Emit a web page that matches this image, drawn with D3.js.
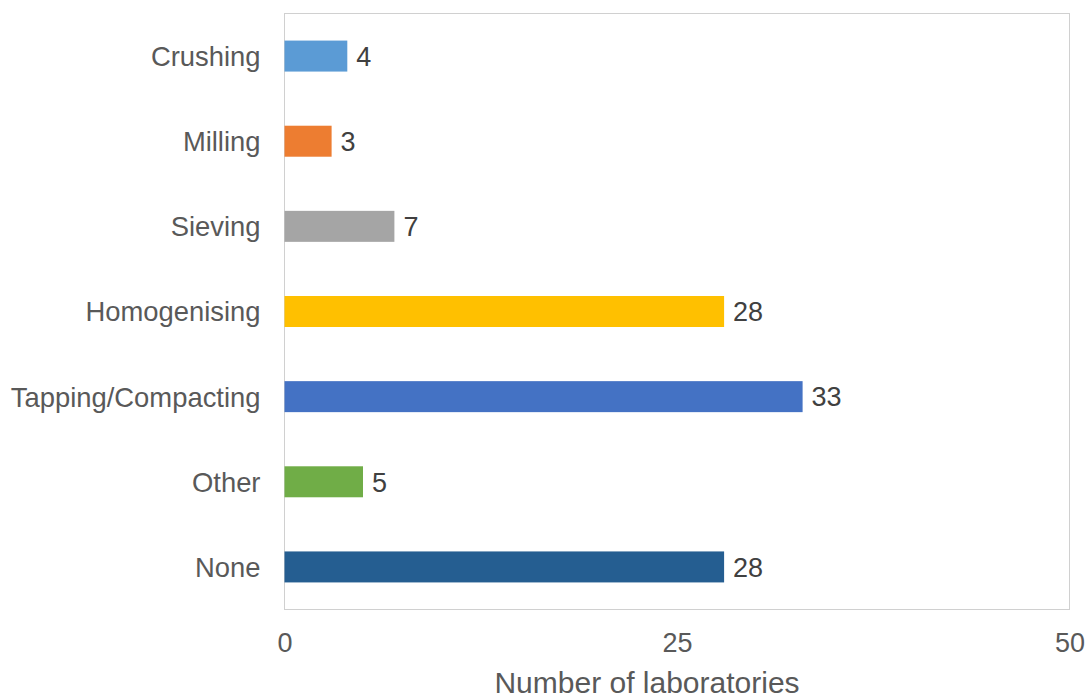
<!DOCTYPE html>
<html>
<head>
<meta charset="utf-8">
<script src="https://cdn.jsdelivr.net/npm/d3@7"></script>
<style>
  html, body { margin: 0; padding: 0; background: #fff; }
  svg { display: block; font-family: "Liberation Sans", Arial, sans-serif; }
</style>
</head>
<body>
<svg id="chart" width="1087" height="699"></svg>
<script>
// Sample preparation steps reported by laboratories
const categories = ["Crushing", "Milling", "Sieving", "Homogenising", "Tapping/Compacting", "Other", "None"];
const counts = [4, 3, 7, 28, 33, 5, 28];
const barColors = ["#5B9BD5", "#ED7D31", "#A5A5A5", "#FFC000", "#4472C4", "#70AD47", "#255E91"];
const xTicks = [0, 25, 50];
const xTitle = "Number of laboratories";

const svg = d3.select("#chart");
const plot = { left: 284.5, right: 1069.5, top: 13.5, bottom: 609.5 };

const x = d3.scaleLinear().domain([0, 50]).range([plot.left, plot.right]);
const y = d3.scaleBand().domain(categories).range([plot.top, plot.bottom])
  .paddingInner(0.636).paddingOuter(0.318);

// plot area frame
svg.append("rect")
  .attr("x", plot.left).attr("y", plot.top)
  .attr("width", plot.right - plot.left).attr("height", plot.bottom - plot.top)
  .attr("fill", "none").attr("stroke", "#d0d0d0").attr("stroke-width", 1);

// bars
svg.append("g").selectAll("rect")
  .data(categories)
  .join("rect")
  .attr("x", x(0))
  .attr("y", d => y(d))
  .attr("width", (d, i) => x(counts[i]) - x(0))
  .attr("height", y.bandwidth())
  .attr("fill", (d, i) => barColors[i]);

// value labels
svg.append("g").selectAll("text")
  .data(categories)
  .join("text")
  .attr("x", (d, i) => x(counts[i]) + 9)
  .attr("y", d => y(d) + y.bandwidth() / 2)
  .attr("dy", "0.36em")
  .attr("font-size", 27)
  .attr("fill", "#404040")
  .text((d, i) => counts[i]);

// category axis
const yAxis = svg.append("g")
  .attr("transform", `translate(${plot.left},0)`)
  .call(d3.axisLeft(y).tickSize(0).tickPadding(24));
yAxis.select(".domain").remove();
yAxis.selectAll("text")
  .attr("font-size", 27.4)
  .attr("fill", "#595959")
  .attr("font-family", "\"Liberation Sans\", Arial, sans-serif")
  .attr("dy", "0.36em");

// value axis
const xAxis = svg.append("g")
  .attr("transform", `translate(0,${plot.bottom})`)
  .call(d3.axisBottom(x).tickValues(xTicks).tickSize(0).tickPadding(0));
xAxis.select(".domain").remove();
xAxis.selectAll("text")
  .attr("font-size", 27)
  .attr("fill", "#595959")
  .attr("font-family", "\"Liberation Sans\", Arial, sans-serif")
  .attr("dy", null)
  .attr("y", 42.5);

// axis title
svg.append("text")
  .attr("x", 647)
  .attr("y", 693)
  .attr("text-anchor", "middle")
  .attr("font-size", 30)
  .attr("fill", "#595959")
  .text(xTitle);
</script>
</body>
</html>
